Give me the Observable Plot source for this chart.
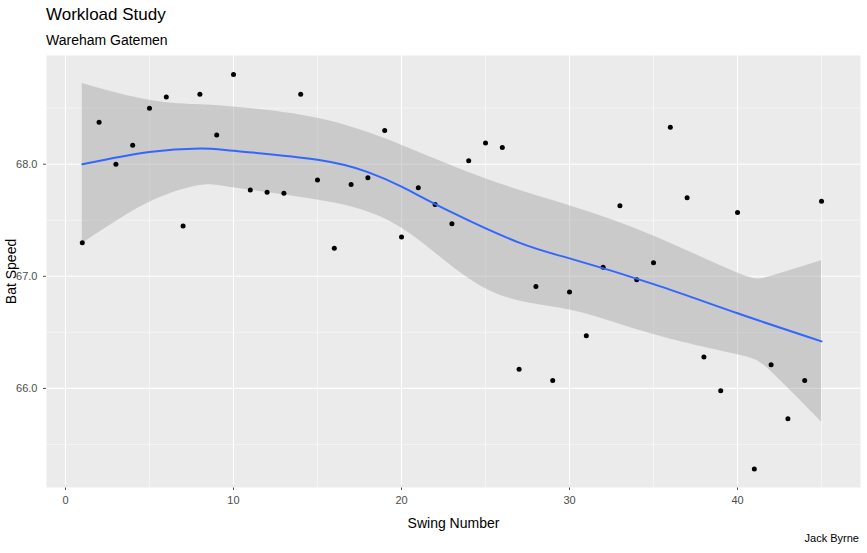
<!DOCTYPE html>
<html><head><meta charset="utf-8">
<script src="https://cdn.jsdelivr.net/npm/d3@7"></script>
<script src="https://cdn.jsdelivr.net/npm/@observablehq/plot@0.6"></script>
<style>
body{margin:0;background:#fff;font-family:"Liberation Sans",Arial,sans-serif;}
#t{position:absolute;left:46px;top:5px;font-size:17px;color:#000}
#s{position:absolute;left:46px;top:32px;font-size:14px;color:#000}
#c{position:absolute;right:8px;top:532px;font-size:11px;color:#000}
#p{position:absolute;left:0;top:50px}
</style></head><body>
<div id="t">Workload Study</div>
<div id="s">Wareham Gatemen</div>
<div id="p"></div>
<div id="c">Jack Byrne</div>
<script>
const swing = d3.range(1,46);
const speed = [67.30,68.375,68.0,68.17,68.5,68.6,67.45,68.625,68.26,68.80,67.77,67.75,67.74,68.625,67.86,67.25,67.82,67.88,68.30,67.35,67.79,67.64,67.47,68.03,68.19,68.15,66.17,66.91,66.07,66.86,66.47,67.08,67.63,66.97,67.12,68.33,67.70,66.28,65.98,67.57,65.28,66.21,65.73,66.07,67.67];
const fitX = [1,5,8,10,15,18,20,23,27,30,35,40,45];
const fitY = [68.0,68.11,68.14,68.12,68.04,67.93,67.8,67.57,67.3,67.16,66.93,66.67,66.42];
const bandX = [1,5,8,10,15,20,25,30,35,40,42,45];
const bandHi = [68.72,68.57,68.53,68.51,68.41,68.17,67.87,67.63,67.36,67.03,67.0,67.14];
const bandLo = [67.29,67.66,67.81,67.79,67.68,67.43,66.89,66.70,66.48,66.30,66.15,65.70];
const pts = swing.map((s,i)=>({x:s,y:speed[i]}));
const fit = fitX.map((x,i)=>({x,y:fitY[i]}));
const band = bandX.map((x,i)=>({x,lo:bandLo[i],hi:bandHi[i]}));
const chart = Plot.plot({
  width:867,height:485,marginLeft:46,marginRight:7,marginTop:5,marginBottom:48,
  style:{fontFamily:"Liberation Sans, Arial, sans-serif",fontSize:"11px",color:"#4D4D4D"},
  x:{domain:[-1.13,47.32],ticks:[0,10,20,30,40],tickSize:3,label:"Swing Number",labelAnchor:"center",labelArrow:"none",labelOffset:40},
  y:{domain:[65.116,68.97],ticks:[66,67,68],tickSize:3,label:"Bat Speed",labelAnchor:"center",labelArrow:"none",labelOffset:40},
  marks:[
    Plot.frame({fill:"#EBEBEB",stroke:null}),
    Plot.ruleY([65.5,66.5,67.5,68.5],{stroke:"#fff",strokeWidth:0.5,strokeOpacity:1}),
    Plot.ruleX([5,15,25,35,45],{stroke:"#fff",strokeWidth:0.5,strokeOpacity:1}),
    Plot.ruleY([66,67,68],{stroke:"#fff",strokeWidth:1.1}),
    Plot.ruleX([0,10,20,30,40],{stroke:"#fff",strokeWidth:1.1}),
    Plot.areaY(band,{x:"x",y1:"lo",y2:"hi",fill:"#999",fillOpacity:0.4,curve:"natural"}),
    Plot.dot(pts,{x:"x",y:"y",r:2.5,fill:"#000",stroke:null}),
    Plot.line(fit,{x:"x",y:"y",stroke:"#3366FF",strokeWidth:2,curve:"natural"})
  ]
});
chart.querySelectorAll("[aria-label='x-axis label'] text, [aria-label='y-axis label'] text").forEach(t=>{t.style.fontSize="14px";t.style.fill="#000";});
document.getElementById("p").appendChild(chart);
</script></body></html>
